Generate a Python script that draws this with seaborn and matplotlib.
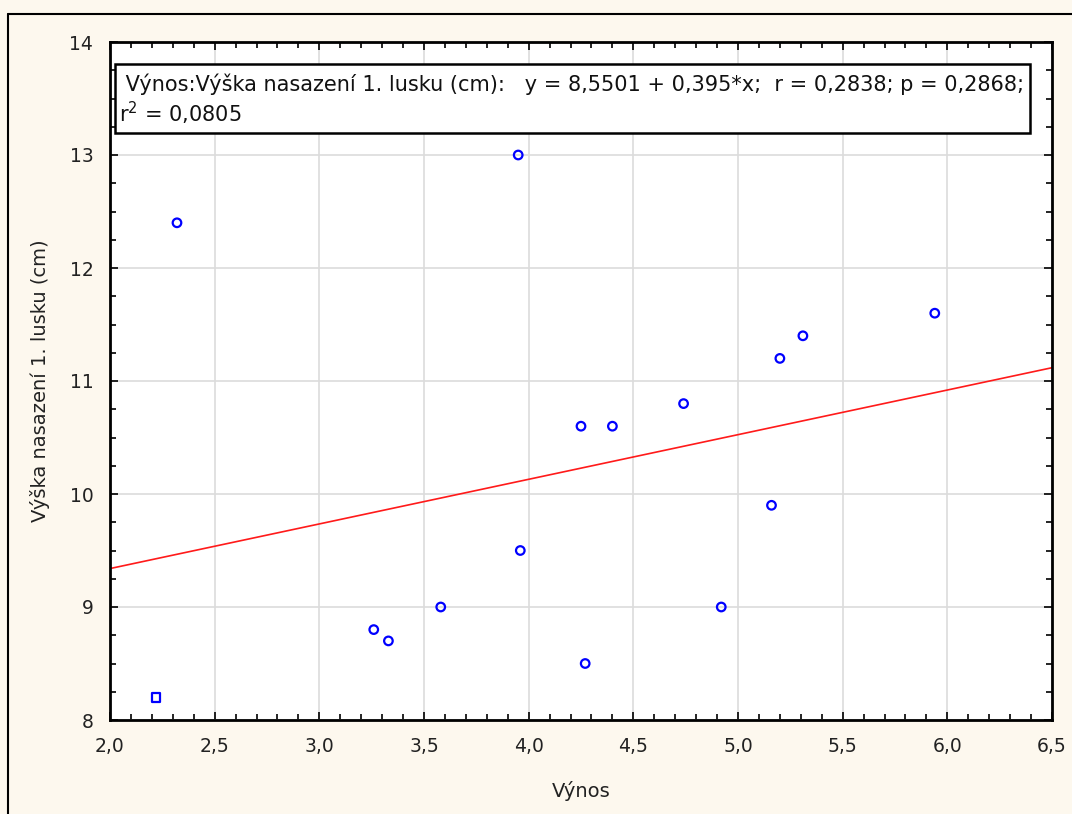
import matplotlib
matplotlib.use("Agg")
import matplotlib.pyplot as plt
import seaborn as sns
import numpy as np
import pandas as pd
from matplotlib.ticker import MultipleLocator, FuncFormatter
from matplotlib.lines import Line2D
from matplotlib.patches import Rectangle

# Data
vynos = [2.22, 2.32, 3.26, 3.33, 3.58, 3.95, 3.96, 4.25, 4.27, 4.40, 4.74, 4.92, 5.16, 5.20, 5.31, 5.94]
vyska = [8.2, 12.4, 8.8, 8.7, 9.0, 13.0, 9.5, 10.6, 8.5, 10.6, 10.8, 9.0, 9.9, 11.2, 11.4, 11.6]
marker_kind = ["s"] + ["o"] * 15
intercept = 8.5501
slope = 0.395
x_ticks = [2.0, 2.5, 3.0, 3.5, 4.0, 4.5, 5.0, 5.5, 6.0, 6.5]
y_ticks = [8, 9, 10, 11, 12, 13, 14]
legend_line1 = " Výnos:Výška nasazení 1. lusku (cm):   y = 8,5501 + 0,395*x;  r = 0,2838; p = 0,2868;"
legend_line2 = "r$^2$ = 0,0805"

df = pd.DataFrame({"Výnos": vynos, "Výška": vyska, "m": marker_kind})

sns.set_theme(style="white")
plt.rcParams["font.family"] = ["DejaVu Sans"]

fig = plt.figure(figsize=(10.72, 8.14), dpi=100, facecolor="#fdf8ee")
W, H = 1072, 814
ax = fig.add_axes([110 / W, 1 - 720 / H, (1052 - 110) / W, (720 - 42) / H])
ax.set_facecolor("white")

ax.set_xlim(2.0, 6.5)
ax.set_ylim(8, 14)

# grid
ax.set_xticks(x_ticks)
ax.set_yticks(y_ticks)
ax.grid(True, color="#dcdcdc", linewidth=1.2, zorder=0)
ax.set_axisbelow(True)

# regression line
xs = np.array([2.0, 6.5])
ax.plot(xs, intercept + slope * xs, color="#ff1a1a", linewidth=1.2, zorder=2)

sns.scatterplot(data=df, x="Výnos", y="Výška", style="m", markers={"o": "o", "s": "s"},
                s=38, facecolors="none", edgecolor="#0000ff", linewidth=1.6,
                legend=False, ax=ax, zorder=3)
for c in ax.collections:
    c.set_facecolor("none")
    c.set_edgecolor("#0000ff")

ax.xaxis.set_minor_locator(MultipleLocator(0.1))
ax.yaxis.set_minor_locator(MultipleLocator(0.25))
ax.tick_params(which="both", direction="in", top=True, right=True, bottom=True, left=True,
               color="black")
ax.tick_params(which="major", length=6, width=1.2, labelsize=13.5, labelcolor="#222222")
ax.tick_params(axis="x", which="major", pad=12)
ax.tick_params(axis="y", which="major", pad=12)
ax.tick_params(which="minor", length=4, width=1.2)
ax.xaxis.set_major_formatter(FuncFormatter(lambda v, p: f"{v:.1f}".replace(".", ",")))
ax.yaxis.set_major_formatter(FuncFormatter(lambda v, p: f"{int(v)}"))

for sp in ax.spines.values():
    sp.set_color("black")
    sp.set_linewidth(2)

ax.set_xlabel("Výnos", fontsize=14, color="#222222", labelpad=18)
ax.set_ylabel("Výška nasazení 1. lusku (cm)", fontsize=14, color="#222222", labelpad=14)

# legend box
x0 = (115 - 110) / 942
x1 = (1030 - 110) / 942
ytop = 1 - (64 - 42) / 678
ybot = 1 - (133 - 42) / 678
ax.add_patch(Rectangle((x0, ybot), x1 - x0, ytop - ybot, transform=ax.transAxes,
                       facecolor="white", edgecolor="black", linewidth=1.8, zorder=5,
                       clip_on=False))
ax.text(x0 + 0.004, 1 - (84 - 42) / 678, legend_line1, transform=ax.transAxes, fontsize=15,
        color="#111111", va="center", ha="left", zorder=6)
ax.text(x0 + 0.004, 1 - (113 - 42) / 678, legend_line2, transform=ax.transAxes, fontsize=15,
        color="#111111", va="center", ha="left", zorder=6)

# outer frame (left and top edges)
fig.add_artist(Line2D([8 / W, 8 / W], [0, 1 - 14 / H], transform=fig.transFigure,
                      color="black", linewidth=1.5))
fig.add_artist(Line2D([8 / W, 1], [1 - 14 / H, 1 - 14 / H], transform=fig.transFigure,
                      color="black", linewidth=1.5))

fig.savefig("out.png", dpi=100, facecolor=fig.get_facecolor())
